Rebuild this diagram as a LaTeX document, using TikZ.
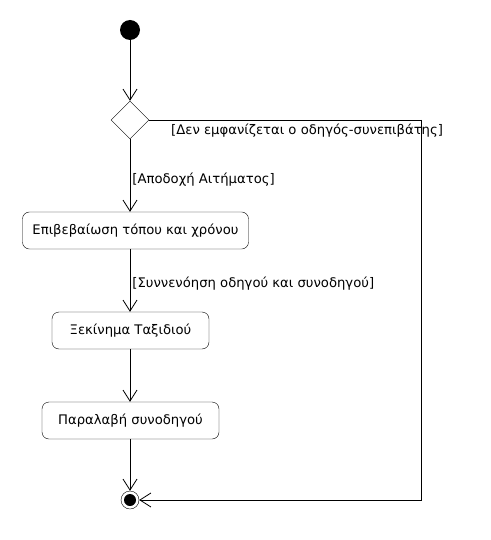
\documentclass[tikz,border=0pt]{standalone}
\usepackage{fontspec}
\setmainfont{DejaVu Sans}
\usepackage{tikz}
\usetikzlibrary{arrows.meta,shapes.geometric}

\tikzset{
	action/.style={draw, rounded corners=7pt, fill=white, minimum height=37pt, inner xsep=10pt, font=\fontsize{13.2}{15}\selectfont},
	decision/.style={draw, diamond, aspect=1, minimum size=38pt, inner sep=0pt},
	startnode/.style={circle, fill=black, minimum size=20pt, inner sep=0pt},
	endnode/.style={circle, draw, fill=white, minimum size=18pt, inner sep=0pt},
	flow/.style={-{Straight Barb[length=11pt,width=14pt,line width=0.8pt]}, line width=0.8pt},
	guard/.style={font=\fontsize{13.2}{15}\selectfont, inner sep=2pt}
}

\begin{document}
\begin{tikzpicture}[x=1pt,y=-1pt]
	\useasboundingbox (0,0) rectangle (490,540);

	\node [startnode] (start) at (130,30) {};
	\node [decision] (choice) at (130,120) {};
	\node [action] (confirm) at (135.5,230.5) {Επιβεβαίωση τόπου και χρόνου};
	\node [action, minimum width=157pt] (trip) at (130.5,330.5) {Ξεκίνημα Ταξιδιού};
	\node [action, minimum width=177pt] (pickup) at (130.5,420.5) {Παραλαβή συνοδηγού};
	\node [endnode] (finish) at (130,500) {};
	\fill (finish.center) circle (6);

	\coordinate (turn1) at (421,120);
	\coordinate (turn2) at (421,500);

	\draw [flow] (start) -- (choice);
	\draw [flow] (choice.south) -- node[guard, anchor=west, yshift=-4pt] {[Αποδοχή Αιτήματος]} (choice.south |- confirm.north);
	\draw [flow] (choice.south |- confirm.south) -- node[guard, anchor=west, yshift=-3pt] {[Συννενόηση οδηγού και συνοδηγού]} (choice.south |- trip.north);
	\draw [flow] (choice.south |- trip.south) -- (choice.south |- pickup.north);
	\draw [flow] (choice.south |- pickup.south) -- (finish);

	\draw [line width=0.8pt] (choice.east) -- (turn1);
	\draw [flow] (turn1) -- (turn2) -- (finish);
	\node [guard, anchor=west] (noshow) at (169,131) {[Δεν εμφανίζεται ο οδηγός-συνεπιβάτης]};
\end{tikzpicture}
\end{document}
